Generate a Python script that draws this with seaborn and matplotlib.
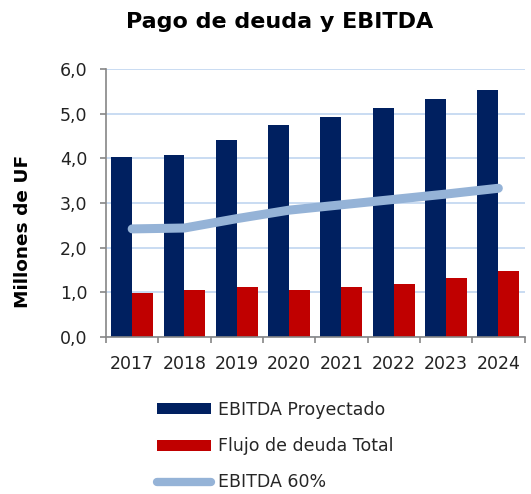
import matplotlib
matplotlib.use("Agg")
import matplotlib.pyplot as plt
import seaborn as sns
import pandas as pd
from matplotlib.lines import Line2D
from matplotlib.patches import Patch

years = ["2017", "2018", "2019", "2020", "2021", "2022", "2023", "2024"]
ebitda = [4.04, 4.07, 4.42, 4.74, 4.93, 5.13, 5.33, 5.54]
flujo = [0.99, 1.05, 1.11, 1.05, 1.11, 1.18, 1.32, 1.47]
ebitda60 = [2.42, 2.44, 2.65, 2.84, 2.96, 3.08, 3.20, 3.33]
yticks = [0, 1, 2, 3, 4, 5, 6]
ytick_labels = ["0,0", "1,0", "2,0", "3,0", "4,0", "5,0", "6,0"]
series_names = ["EBITDA Proyectado", "Flujo de deuda Total", "EBITDA 60%"]

navy = "#002060"
red = "#C00000"
light = "#95B3D7"

sns.set_theme(style="white")
plt.rcParams["font.family"] = ["DejaVu Sans"]

df = pd.DataFrame({
    "year": years * 2,
    "value": ebitda + flujo,
    "serie": [series_names[0]] * len(years) + [series_names[1]] * len(years),
})
line_df = pd.DataFrame({"x": list(range(len(years))), "y": ebitda60})

fig = plt.figure(figsize=(5.31, 4.94), dpi=100)
ax = fig.add_axes([106 / 531, 1 - 337 / 494, (524.5 - 106) / 531, (337 - 69) / 494])

sns.barplot(data=df, x="year", y="value", hue="serie", order=years,
            hue_order=series_names[:2], palette=[navy, red], width=0.8,
            linewidth=0, saturation=1, ax=ax, legend=False, zorder=2)
sns.lineplot(data=line_df, x="x", y="y", color=light, linewidth=6.5,
             ax=ax, zorder=3, solid_capstyle="round", solid_joinstyle="round")

ax.set_xlim(-0.5, len(years) - 0.5)
ax.set_ylim(0, 6)
ax.set_yticks(yticks)
ax.set_yticklabels(ytick_labels)
ax.set_xticks(range(len(years)))
ax.set_xticklabels(years)
ax.set_xticks([i - 0.5 for i in range(len(years) + 1)], minor=True)
ax.tick_params(axis="x", which="major", bottom=True, length=0, pad=13, labelsize=12.5,
               labelcolor="#222222")
ax.tick_params(axis="x", which="minor", bottom=True, length=4.5, width=1.2,
               color="#868686", direction="out")
ax.tick_params(axis="y", which="major", left=True, length=4, width=1.2, color="#868686",
               direction="out", pad=9.5, labelsize=12.5, labelcolor="#222222")
ax.grid(axis="y", color="#C5D9F1", linewidth=1.3, zorder=0)
ax.set_axisbelow(True)
for s in ["top", "right"]:
    ax.spines[s].set_visible(False)
for s in ["left", "bottom"]:
    ax.spines[s].set_color("#868686")
    ax.spines[s].set_linewidth(1.2)
ax.set_xlabel("")
ax.set_ylabel("")

fig.text(23 / 531, 1 - 231 / 494, "Millones de UF", rotation=90, ha="center", va="center",
         fontsize=13.3, fontweight="bold", color="black")
fig.text(280 / 531, 1 - 22 / 494, "Pago de deuda y EBITDA", ha="center", va="center",
         fontsize=16, fontweight="bold", color="black")

handles = [Patch(facecolor=navy, edgecolor="none"),
           Patch(facecolor=red, edgecolor="none"),
           Line2D([0], [0], color=light, linewidth=6, solid_capstyle="round")]
fig.legend(handles, series_names, loc="upper left",
           bbox_to_anchor=(157 / 531, 1 - 401 / 494), frameon=False,
           fontsize=12.5, handlelength=3.1, handleheight=0.6, handletextpad=0.4,
           labelspacing=1.05, borderpad=0, borderaxespad=0)

fig.savefig("out.png", dpi=100)
